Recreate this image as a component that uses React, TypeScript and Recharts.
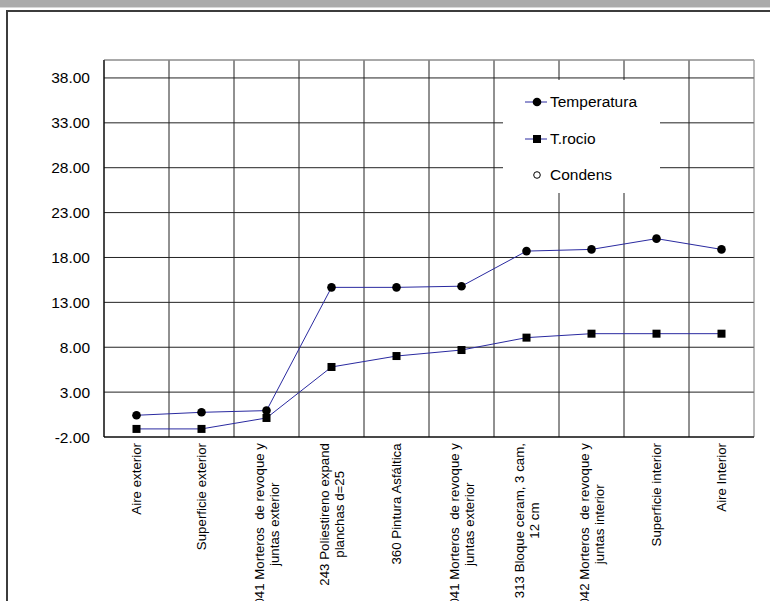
import React from 'react';
import { LineChart, Line, XAxis, YAxis, CartesianGrid, ReferenceLine, Legend } from 'recharts';

const categories: string[] = [
  'Aire exterior',
  'Superficie exterior',
  '041 Morteros  de revoque y\njuntas exterior',
  '243 Poliestireno expand\nplanchas d=25',
  '360 Pintura Asfáltica',
  '041 Morteros  de revoque y\njuntas exterior',
  '313 Bloque ceram, 3 cam,\n12 cm',
  '042 Morteros  de revoque y\njuntas interior',
  'Superficie interior',
  'Aire Interior',
];
const temperatura: number[] = [0.42, 0.75, 0.94, 14.67, 14.67, 14.8, 18.71, 18.9, 20.1, 18.9];
const tRocio: number[] = [-1.1, -1.1, 0.12, 5.8, 7.02, 7.69, 9.07, 9.51, 9.51, 9.51];
const condens: (number | null)[] = [null, null, null, null, null, null, null, null, null, null];
const yTicks: number[] = [-2, 3, 8, 13, 18, 23, 28, 33, 38];
const seriesNames = ['Temperatura', 'T.rocio', 'Condens'];

const data = categories.map((c, i) => ({
  idx: i,
  name: c,
  temperatura: temperatura[i],
  rocio: tRocio[i],
  condens: condens[i],
}));
const xTicks = categories.map((_, i) => i);
const boundaries = [...categories.map((_, i) => i - 0.5), categories.length - 0.5];

const FONT = '"Liberation Sans", Arial, sans-serif';
const XFS = 13.3;
const LINE_COLOR = '#2a2aa0';

let ctx: CanvasRenderingContext2D | null = null;
const measure = (s: string) => {
  if (!ctx) {
    const c = document.createElement('canvas');
    ctx = c.getContext('2d');
  }
  if (!ctx) return s.length * XFS * 0.5;
  ctx.font = `${XFS}px "Liberation Sans"`;
  return ctx.measureText(s).width;
};

const XTick = (props: any) => {
  const { x, y, payload } = props;
  const label = categories[payload.value] ?? '';
  const lines = label.split('\n');
  const maxW = Math.max(...lines.map(measure));
  const n = lines.length;
  return (
    <g transform={`translate(${x},${y})`}>
      <g transform="rotate(-90)">
        {lines.map((l, i) => (
          <text
            key={i}
            x={-(6 + maxW / 2)}
            y={(i - (n - 1) / 2) * 15}
            textAnchor="middle"
            dominantBaseline="central"
            fontFamily={FONT}
            fontSize={XFS}
            fill="#000"
            style={{ whiteSpace: 'pre' }}
          >
            {l}
          </text>
        ))}
      </g>
    </g>
  );
};

const SquareDot = (props: any) => {
  const { cx, cy } = props;
  if (cx == null || cy == null) return null;
  return <rect x={cx - 4} y={cy - 4} width={8} height={8} fill="#000" />;
};
const CircleDot = (props: any) => {
  const { cx, cy } = props;
  if (cx == null || cy == null) return null;
  return <circle cx={cx} cy={cy} r={4.3} fill="#000" />;
};

const LegendContent = () => {
  const rows = [22, 59, 95];
  return (
    <div style={{ position: 'relative', width: 157, height: 113, background: '#fff' }}>
      {seriesNames.map((n, i) => (
        <div key={n} style={{ position: 'absolute', left: 0, top: rows[i] - 12, height: 24, width: 157 }}>
          <svg width={30} height={24} style={{ position: 'absolute', left: 20, top: 0 }}>
            {i < 2 && <line x1={2} y1={12} x2={24} y2={12} stroke={LINE_COLOR} strokeWidth={1} />}
            {i === 0 && <circle cx={14} cy={12} r={4.3} fill="#000" />}
            {i === 1 && <rect x={10} y={8} width={8} height={8} fill="#000" />}
            {i === 2 && <circle cx={14} cy={12} r={3.3} fill="#fff" stroke="#000" strokeWidth={1} />}
          </svg>
          <span
            style={{
              position: 'absolute',
              left: 47,
              top: 0,
              lineHeight: '24px',
              fontFamily: FONT,
              fontSize: 15.5,
              color: '#000',
              whiteSpace: 'nowrap',
            }}
          >
            {n}
          </span>
        </div>
      ))}
    </div>
  );
};

export default function App() {
  return (
    <div style={{ position: 'absolute', left: 0, top: 0, width: 770, height: 601, background: '#fff', overflow: 'hidden' }}>
      <div style={{ position: 'absolute', left: 0, top: 0, width: 770, height: 7, background: '#ababab' }} />
      <div style={{ position: 'absolute', left: 0, top: 7, width: 770, height: 1, background: '#d8d8d8' }} />
      <div
        style={{
          position: 'absolute',
          left: 6,
          top: 10,
          width: 780,
          height: 620,
          borderTop: '2px solid #3c3c3c',
          borderLeft: '2px solid #3c3c3c',
        }}
      />
      <div style={{ position: 'absolute', left: 0, top: 0 }}>
        <LineChart width={770} height={601} data={data} margin={{ top: 60, right: 16, bottom: 0, left: 0 }}>
          <CartesianGrid vertical={false} stroke="#222" strokeWidth={1} />
          {boundaries.map((b, i) => (
            <ReferenceLine
              key={i}
              x={b}
              stroke={i === boundaries.length - 1 ? '#777' : '#222'}
              strokeWidth={1}
              ifOverflow="extendDomain"
            />
          ))}
          <ReferenceLine y={40} stroke="#c0c0c0" strokeWidth={1} />
          <XAxis
            dataKey="idx"
            type="number"
            domain={[-0.5, 9.5]}
            ticks={xTicks}
            interval={0}
            tickLine={false}
            tickSize={0}
            tickMargin={0}
            height={164}
            axisLine={{ stroke: '#000', strokeWidth: 1 }}
            tick={<XTick />}
          />
          <YAxis
            type="number"
            domain={[-2, 40]}
            ticks={yTicks}
            interval={0}
            width={104}
            tickLine={false}
            tickSize={0}
            tickMargin={14}
            axisLine={{ stroke: '#000', strokeWidth: 1 }}
            tickFormatter={(v: number) => v.toFixed(2)}
            tick={{ fontFamily: FONT, fontSize: 15.5, fill: '#000' }}
          />
          <Legend
            layout="vertical"
            align="center"
            verticalAlign="middle"
            content={<LegendContent />}
            wrapperStyle={{ left: 503, top: 80, width: 157, height: 113 }}
          />
          <Line
            dataKey="temperatura"
            name={seriesNames[0]}
            stroke={LINE_COLOR}
            strokeWidth={1}
            dot={<CircleDot />}
            activeDot={false}
            isAnimationActive={false}
          />
          <Line
            dataKey="rocio"
            name={seriesNames[1]}
            stroke={LINE_COLOR}
            strokeWidth={1}
            dot={<SquareDot />}
            activeDot={false}
            isAnimationActive={false}
          />
          <Line
            dataKey="condens"
            name={seriesNames[2]}
            stroke="none"
            dot={{ r: 3.3, fill: '#fff', stroke: '#000' }}
            isAnimationActive={false}
          />
        </LineChart>
      </div>
    </div>
  );
}
